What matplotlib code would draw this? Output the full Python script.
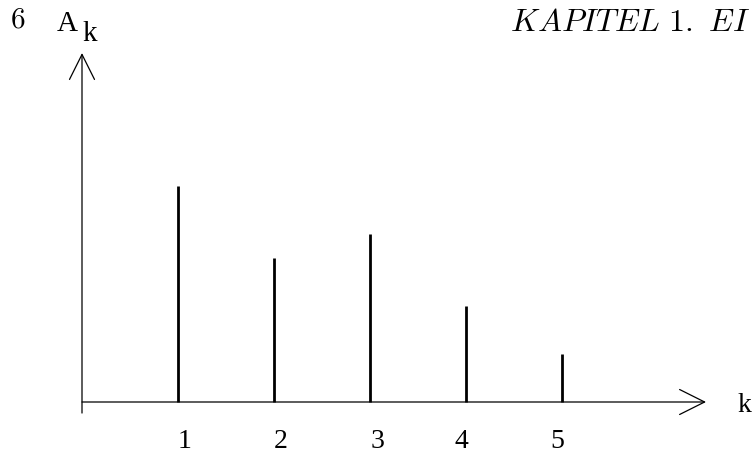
import matplotlib.pyplot as plt
import matplotlib.transforms as mtransforms

# Spektrum A_k ueber k
k_values = [1, 2, 3, 4, 5]
a_values = [9, 6, 7, 4, 2]
tick_labels = ['1', '2', '3', '4', '5']
page_number = '6'
header_text = r'$\mathit{KAPITEL\ 1.\ EI}$'

plt.rcParams['mathtext.fontset'] = 'cm'
serif = ['Liberation Serif', 'DejaVu Serif']

fig = plt.figure(figsize=(7.56, 4.55), dpi=100)
ax = fig.add_axes([0, 0, 1, 1])
ax.set_xlim(-82 / 96, (756 - 82) / 96)
ax.set_ylim(-53 / 24, (455 - 53) / 24)
ax.axis('off')

# Achsen mit offenen Pfeilspitzen
arrow = dict(arrowstyle='->,head_length=0.9,head_width=0.45', lw=0.9,
             color='black', mutation_scale=20, shrinkA=0, shrinkB=0)
ax.annotate('', xy=(6.5, 0), xytext=(0, 0), arrowprops=arrow)
ax.annotate('', xy=(0, 14.54), xytext=(0, -0.46), arrowprops=arrow)

# Linien des Spektrums
ax.vlines(k_values, 0, a_values, colors='black', linewidth=2.0)

# Beschriftung der k-Werte
label_nudge_px = [7, 7, 7, -5, -5]
for k, lab, dx in zip(k_values, tick_labels, label_nudge_px):
    tr = mtransforms.offset_copy(ax.transData, fig=fig, x=dx, y=-39, units='dots')
    ax.text(k, 0, lab, transform=tr, ha='center', va='center',
            fontsize=20, family=serif)

ax.text(744, 455 - 406, 'k', transform=None, ha='center', va='center',
        fontsize=20, family=serif)

# Kopfzeile und Achsenname
fig.text(18 / 756, 1 - 20 / 455, page_number, ha='center', va='center',
         fontsize=21, family='cmr10')
fig.text(750 / 756, 1 - 31 / 455, header_text, ha='right', va='baseline',
         fontsize=23)
fig.text(57 / 756, 1 - 31 / 455, 'A', ha='left', va='baseline',
         fontsize=21, family=serif)
fig.text(82 / 756, 1 - 41 / 455, 'k', ha='left', va='baseline',
         fontsize=21, family=serif)

fig.savefig('out.png', dpi=100)
plt.close(fig)
